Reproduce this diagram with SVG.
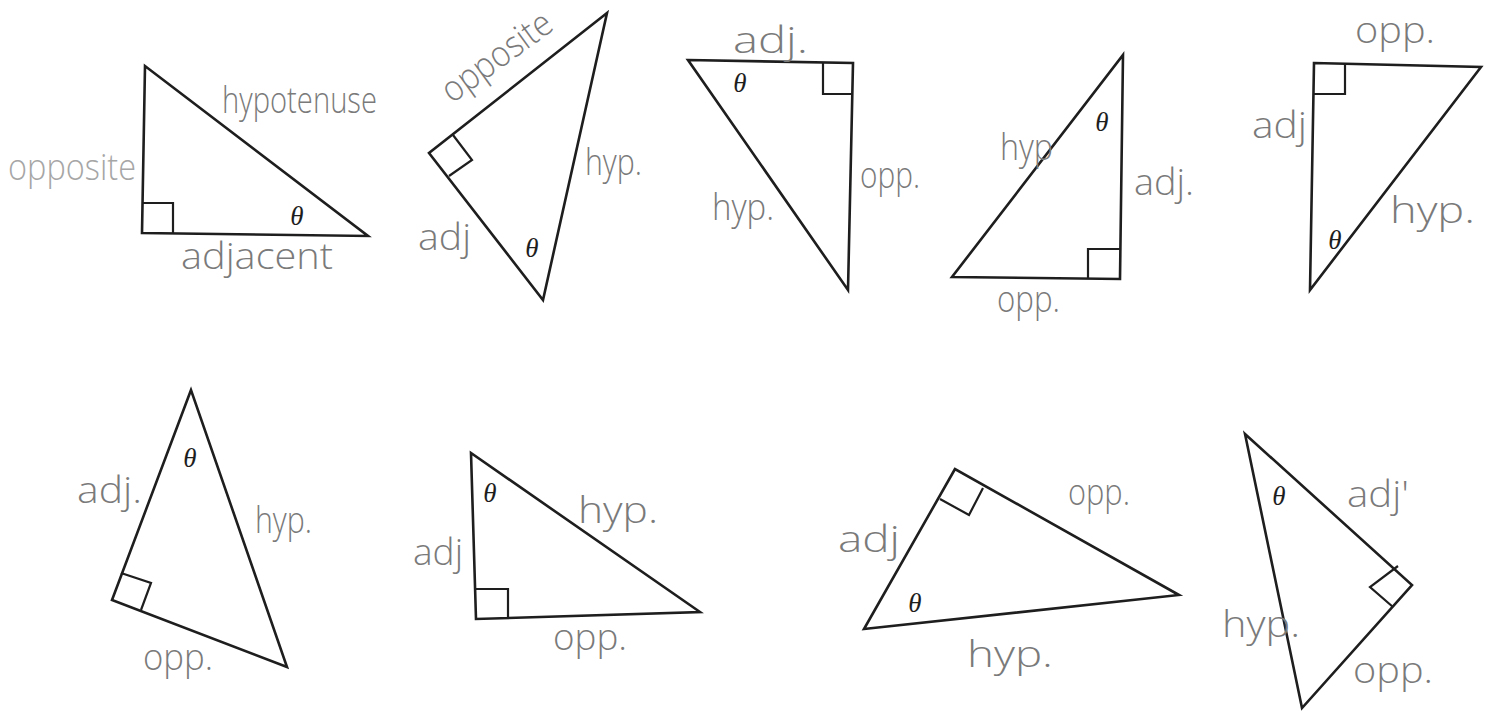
<svg xmlns="http://www.w3.org/2000/svg" width="1487" height="711" viewBox="0 0 1487 711">
<style>
.tri{fill:none;stroke:#1e1e1e;stroke-width:2.6;stroke-linejoin:miter}
.sq{fill:none;stroke:#1e1e1e;stroke-width:2.2}
.th{font-family:"Liberation Serif","DejaVu Serif",serif;font-style:italic;font-size:27px;fill:#1e1e1e;text-anchor:middle}
.lb{font-family:"Open Sans","Lato","DejaVu Sans",sans-serif;font-weight:300;font-size:36px;fill:#7a7a7a}
.lt{fill:#a6a6a6}
</style>
<rect width="1487" height="711" fill="#ffffff"/>

<g id="tri1">
<polygon class="tri" points="145,66 142,233 368,236"/>
<polyline class="sq" points="142,203 173,203 173,233"/>
<text class="th" x="297" y="225">θ</text>
<text class="lb" x="222" y="113" textLength="155" lengthAdjust="spacingAndGlyphs">hypotenuse</text>
<text class="lb lt" x="8" y="180" textLength="128" lengthAdjust="spacingAndGlyphs">opposite</text>
<text class="lb" x="181" y="269" textLength="152" lengthAdjust="spacingAndGlyphs">adjacent</text>
</g>

<g id="tri2">
<polygon class="tri" points="607,13 429,153 543,300"/>
<polyline class="sq" points="453,135 472,160 449,176"/>
<text class="th" x="532" y="257">θ</text>
<text class="lb" x="452" y="104" textLength="128" lengthAdjust="spacingAndGlyphs" transform="rotate(-36 452 104)">opposite</text>
<text class="lb" x="585" y="175" textLength="57" lengthAdjust="spacingAndGlyphs">hyp.</text>
<text class="lb" x="418" y="250" textLength="53" lengthAdjust="spacingAndGlyphs">adj</text>
</g>

<g id="tri3">
<polygon class="tri" points="688,60 853,63 848,290"/>
<polyline class="sq" points="823,63 823,94 853,94"/>
<text class="th" x="740" y="92">θ</text>
<text class="lb" x="733" y="53" textLength="75" lengthAdjust="spacingAndGlyphs">adj.</text>
<text class="lb" x="860" y="188" textLength="60" lengthAdjust="spacingAndGlyphs">opp.</text>
<text class="lb" x="712" y="220" textLength="62" lengthAdjust="spacingAndGlyphs">hyp.</text>
</g>

<g id="tri4">
<polygon class="tri" points="1123,55 1120,279 952,277"/>
<polyline class="sq" points="1088,279 1088,249 1120,249"/>
<text class="th" x="1102" y="131">θ</text>
<text class="lb" x="1000" y="160" textLength="53" lengthAdjust="spacingAndGlyphs">hyp</text>
<text class="lb" x="1134" y="195" textLength="60" lengthAdjust="spacingAndGlyphs">adj.</text>
<text class="lb" x="997" y="312" textLength="63" lengthAdjust="spacingAndGlyphs">opp.</text>
</g>

<g id="tri5">
<polygon class="tri" points="1314,63 1481,67 1310,290"/>
<polyline class="sq" points="1314,94 1345,94 1345,64"/>
<text class="th" x="1335" y="249">θ</text>
<text class="lb" x="1355" y="43" textLength="80" lengthAdjust="spacingAndGlyphs">opp.</text>
<text class="lb" x="1252" y="138" textLength="55" lengthAdjust="spacingAndGlyphs">adj</text>
<text class="lb" x="1390" y="223" textLength="85" lengthAdjust="spacingAndGlyphs">hyp.</text>
</g>

<g id="tri6">
<polygon class="tri" points="191,390 112,600 287,667"/>
<polyline class="sq" points="121,573 151,583 141,610"/>
<text class="th" x="190" y="467">θ</text>
<text class="lb" x="77" y="503" textLength="65" lengthAdjust="spacingAndGlyphs">adj.</text>
<text class="lb" x="255" y="533" textLength="57" lengthAdjust="spacingAndGlyphs">hyp.</text>
<text class="lb" x="143" y="670" textLength="70" lengthAdjust="spacingAndGlyphs">opp.</text>
</g>

<g id="tri7">
<polygon class="tri" points="471,453 476,619 700,612"/>
<polyline class="sq" points="476,589 508,589 508,618"/>
<text class="th" x="490" y="502">θ</text>
<text class="lb" x="578" y="523" textLength="80" lengthAdjust="spacingAndGlyphs">hyp.</text>
<text class="lb" x="413" y="565" textLength="50" lengthAdjust="spacingAndGlyphs">adj</text>
<text class="lb" x="553" y="650" textLength="74" lengthAdjust="spacingAndGlyphs">opp.</text>
</g>

<g id="tri8">
<polygon class="tri" points="955,469 864,629 1179,595"/>
<polyline class="sq" points="983,488 969,515 940,499"/>
<text class="th" x="915" y="612">θ</text>
<text class="lb" x="1068" y="505" textLength="62" lengthAdjust="spacingAndGlyphs">opp.</text>
<text class="lb" x="838" y="552" textLength="62" lengthAdjust="spacingAndGlyphs">adj</text>
<text class="lb" x="967" y="667" textLength="86" lengthAdjust="spacingAndGlyphs">hyp.</text>
</g>

<g id="tri9">
<polygon class="tri" points="1245,434 1412,585 1302,708"/>
<polyline class="sq" points="1398,566 1370,587 1393,607"/>
<text class="th" x="1279" y="505">θ</text>
<text class="lb" x="1347" y="507" textLength="62" lengthAdjust="spacingAndGlyphs">adj'</text>
<text class="lb" x="1222" y="637" textLength="78" lengthAdjust="spacingAndGlyphs">hyp.</text>
<text class="lb" x="1353" y="683" textLength="80" lengthAdjust="spacingAndGlyphs">opp.</text>
</g>
</svg>
